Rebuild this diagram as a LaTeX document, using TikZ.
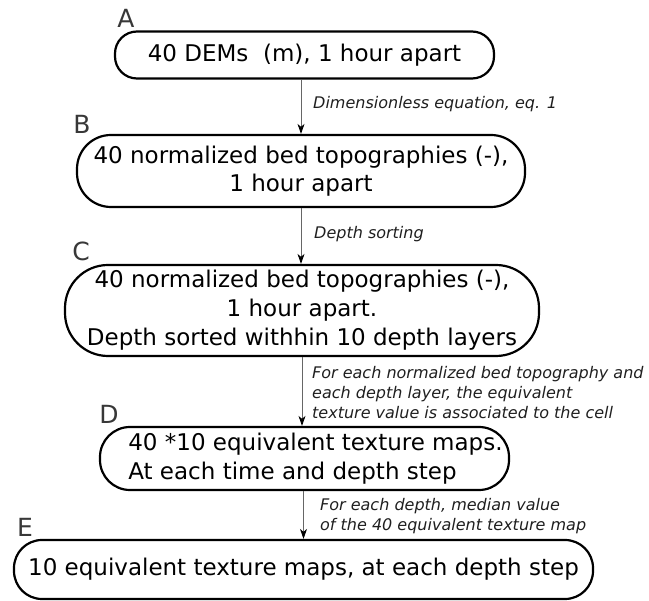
\documentclass[tikz,border=0pt]{standalone}
\usepackage{fontspec}
\setmainfont{DejaVu Sans}
\usetikzlibrary{arrows.meta}
\begin{document}
\begin{tikzpicture}[
    x=1pt, y=-1pt,
    stage box/.style={draw, line width=2.2pt, inner sep=0pt, align=center, font=\fontsize{23}{28}\selectfont},
    stage letter/.style={text=black!78, inner sep=0pt, font=\fontsize{25}{30}\selectfont},
    step note/.style={anchor=north west, align=left, inner sep=0pt, text=black!88, font=\fontsize{16}{20}\selectfont\itshape},
    flow/.style={draw=black!60, line width=0.9pt, -{Stealth[length=10pt, width=7pt, inset=3pt, color=black]}}
]
\useasboundingbox (0,0) rectangle (649,601);

% Stage boxes
\node[stage box, rounded corners=22pt, minimum width=379pt, minimum height=47pt] (A) at (304.5,55) {40 DEMs \ (m), 1 hour apart};
\node[stage box, rounded corners=34pt, minimum width=448pt, minimum height=72pt] (B) at (301,171) {40 normalized bed topographies (-),\\1 hour apart};
\node[stage box, rounded corners=43pt, minimum width=474pt, minimum height=91pt, font=\fontsize{23}{29}\selectfont] (C) at (302,310.5) {40 normalized bed topographies (-),\\1 hour apart.\\Depth sorted withhin 10 depth layers};
\node[stage box, rounded corners=30pt, minimum width=409pt, minimum height=63pt, align=left, font=\fontsize{23}{29}\selectfont] (D) at (304.5,458.5) {\hspace*{22pt}40 *10 equivalent texture maps.\\\hspace*{22pt}At each time and depth step};
\node[stage box, rounded corners=28pt, minimum width=579pt, minimum height=59pt] (E) at (303.5,569.5) {10 equivalent texture maps, at each depth step};

% Stage letters
\foreach \s/\x/\y in {A/126/18, B/82/124, C/81/251, D/109/414, E/25/527}
    \node[stage letter] (\s-letter) at (\x,\y) {\s};

% Connections
\draw[flow] (A.south -| B) -- (B);
\draw[flow] (B) -- (B |- C.north);
\draw[flow] (C) -- (C |- D.north);
\draw[flow] (D.south -| E) -- (E);

% Step notes
\node[step note] (AB-note) at (313,95.8) {Dimensionless equation, eq. 1};
\node[step note] (BC-note) at (314,225.8) {Depth sorting};
\node[step note] (CD-note) at (312,365.8) {For each normalized bed topography and\\each depth layer, the equivalent\\texture value is associated to the cell};
\node[step note] (DE-note) at (320,497.8) {For each depth, median value\\of the 40 equivalent texture map};

\end{tikzpicture}
\end{document}
